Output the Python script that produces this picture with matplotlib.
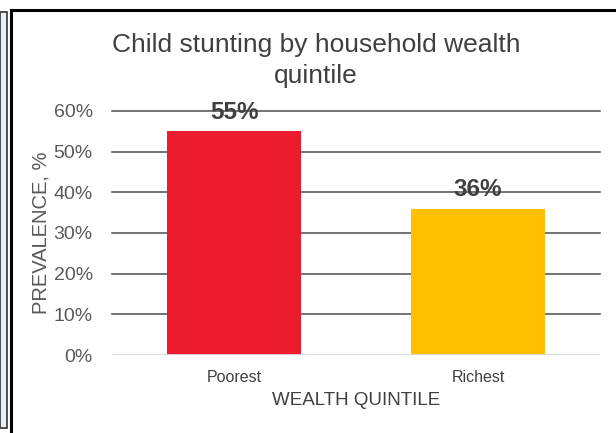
import matplotlib.pyplot as plt
from matplotlib.patches import Rectangle
from matplotlib.lines import Line2D

# data
categories = ['Poorest', 'Richest']
prevalence = [0.55, 0.36]
bar_colors = ['#ec1c2e', '#ffc000']
y_ticks = [0, 0.1, 0.2, 0.3, 0.4, 0.5, 0.6]

plt.rcParams['font.family'] = ['Liberation Sans', 'DejaVu Sans']

fig = plt.figure(figsize=(6.16, 4.33), dpi=100)
ax = fig.add_axes([0.182, 0.180, 0.792, 0.564])

ax.bar(range(len(categories)), prevalence, width=0.55, color=bar_colors, zorder=3)

ax.set_xlim(-0.5, 1.5)
ax.set_ylim(0, 0.6)
ax.set_yticks(y_ticks)
ax.set_yticklabels([f'{int(round(t * 100))}%' for t in y_ticks])
ax.set_xticks(range(len(categories)))
ax.set_xticklabels(categories)

# gridlines
for t in y_ticks[1:]:
    ax.axhline(t, color='#4d4d4d', lw=1.1, zorder=1, clip_on=False)
ax.axhline(0, color='#d9d9d9', lw=1.3, zorder=4)

for s in ax.spines.values():
    s.set_visible(False)
ax.tick_params(axis='both', length=0)
ax.tick_params(axis='y', labelsize=14, labelcolor='#595959', pad=14)
ax.tick_params(axis='x', labelsize=11.5, labelcolor='#404040', pad=11)

# value labels
for i, v in enumerate(prevalence):
    ax.annotate(f'{int(round(v * 100))}%', (i, v), xytext=(0, 13.5), textcoords='offset points',
                ha='center', va='center', fontsize=17.5, fontweight='bold',
                color='#404040', zorder=5, annotation_clip=False)

ax.set_ylabel('PREVALENCE, %', fontsize=14.5, color='#595959', labelpad=2)
ax.set_xlabel('WEALTH QUINTILE', fontsize=13.5, color='#404040', labelpad=5)

fig.text(0.513, 0.860, 'Child stunting by household wealth\nquintile', ha='center', va='center',
         fontsize=19, color='#404040', linespacing=1.4)

# frame around the chart and the cut-off panel at left
fig.patches.append(Rectangle((0, 0.012), 7 / 616, 0.96, transform=fig.transFigure,
                             facecolor='#e9eff3', edgecolor='#333333', lw=1.2))
fig.lines.append(Line2D([11 / 616, 11 / 616], [0, 1 - 10 / 433], transform=fig.transFigure,
                        color='black', lw=2.2))
fig.lines.append(Line2D([11 / 616, 1], [1 - 10 / 433, 1 - 10 / 433], transform=fig.transFigure,
                        color='black', lw=2.2))

fig.savefig('out.png', dpi=100)
